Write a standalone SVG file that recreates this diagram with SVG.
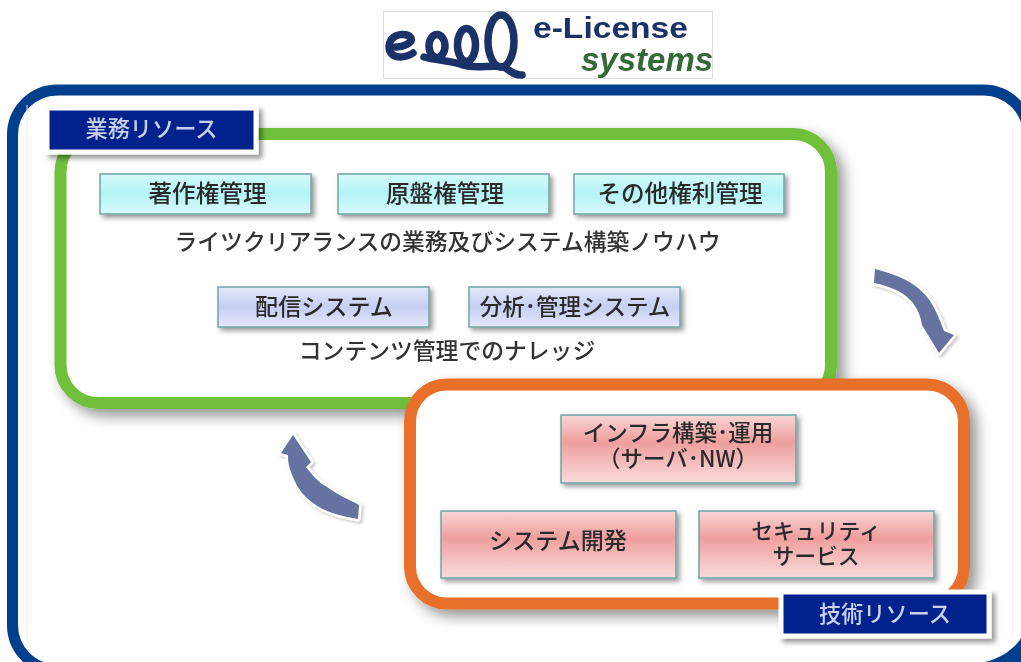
<svg xmlns="http://www.w3.org/2000/svg" width="1021" height="662" viewBox="0 0 1021 662">
<style>
text{font-family:"Noto Sans CJK JP","Noto Sans",sans-serif;text-anchor:middle;filter:blur(.35px)}
.t{font-size:23.6px;fill:#2a2a2a;font-weight:500}
.m{font-size:23.1px}
.c{font-size:22.8px;fill:#333;font-weight:500}
.l{font-size:22.2px;fill:#c9d0ea;font-weight:500}
.b{stroke:#6fa5a5;stroke-width:1.5;filter:url(#s)}
.n{fill:#00238c;stroke:#fff;stroke-width:5;filter:url(#s2)}
.q{fill:none;stroke:#1a3268;stroke-width:7.500;stroke-linecap:round}
.a{fill:#66729f;stroke:#fff;stroke-width:5;stroke-linejoin:round;paint-order:stroke;filter:url(#s4)}
.f{fill:#fff;stroke-width:12;filter:url(#s3)}
</style>
<defs>
<filter id="s" x="-10%" y="-20%" width="125%" height="150%"><feDropShadow dx="3" dy="3" stdDeviation="2.500" flood-color="#000" flood-opacity=".4"/></filter>
<filter id="s2" x="-10%" y="-20%" width="125%" height="150%"><feDropShadow dx="4" dy="4" stdDeviation="2.500" flood-color="#000" flood-opacity=".4"/></filter>
<filter id="s3" x="-5%" y="-10%" width="115%" height="125%"><feDropShadow dx="7" dy="7" stdDeviation="7" flood-color="#000" flood-opacity=".42"/></filter>
<filter id="s4" x="-20%" y="-20%" width="150%" height="150%"><feDropShadow dx="2" dy="2" stdDeviation="1.500" flood-color="#000" flood-opacity=".22"/></filter>
<linearGradient id="cy" x1="0" y1="0" x2="0" y2="1"><stop offset="0" stop-color="#d4fafa"/><stop offset=".5" stop-color="#b4f4f6"/><stop offset="1" stop-color="#d8fafa"/></linearGradient>
<linearGradient id="bl" x1="0" y1="0" x2="0" y2="1"><stop offset="0" stop-color="#e4e8fa"/><stop offset=".5" stop-color="#c6cff2"/><stop offset="1" stop-color="#e4e8fa"/></linearGradient>
<linearGradient id="pk" x1="0" y1="0" x2="0" y2="1"><stop offset="0" stop-color="#f9d6d6"/><stop offset=".4" stop-color="#ef9e9e"/><stop offset="1" stop-color="#f9dcdc"/></linearGradient>
</defs>
<rect width="1021" height="662" fill="#fff"/>
<g id="logo">
<rect x="383.500" y="11.500" width="329" height="67" fill="#fff" stroke="#ddd"/>
<path class="q" d="M396 47C403 47 413 43 411 38C408 33 396 33 391 40C386 49 391 57 400 57C405 57 410 55 413 53"/>
<ellipse class="q" cx="437" cy="46" rx="8" ry="11.500"/>
<ellipse class="q" cx="466.500" cy="45" rx="9" ry="16.500"/>
<ellipse class="q" cx="501" cy="41" rx="13" ry="26"/>
<path class="q" d="M424 57C435 60 450 61 460 64C475 70 490 64 503 67C510 69 512 76 522 75"/>
<text x="533" y="38" textLength="155" lengthAdjust="spacingAndGlyphs" style="text-anchor:start;font-family:'Liberation Sans',sans-serif;font-weight:bold;font-size:30px;fill:#1a3268">e-License</text>
<text x="581" y="71" style="text-anchor:start;font-family:'Liberation Sans',sans-serif;font-weight:bold;font-style:italic;font-size:33px;fill:#356a38">systems</text>
</g>
<g id="frame">
<rect x="12.500" y="90" width="1016" height="580" rx="45" fill="#fff" stroke="#003f8c" stroke-width="11"/>
<path d="M1021 639C1010 652 1000 658 985 662H1021Z" fill="#003f8c"/>
<path d="M27 105V640M1013 125V636" fill="none" stroke="#ececec"/>
</g>
<g id="resource-business">
<rect class="f" x="60.500" y="134" width="770.500" height="269" rx="38" stroke="#70c03a"/>
</g>
<g id="resource-tech">
<rect class="f" x="410" y="384.500" width="554" height="219" rx="37" stroke="#e86f2c"/>
</g>
<g id="label-business">
<rect class="n" x="47" y="108" width="209" height="44"/>
<text class="l" x="151.500" y="137">業務リソース</text>
</g>
<g id="n1"><rect class="b" x="100" y="174" width="211" height="40" fill="url(#cy)"/><text class="t" x="207.500" y="202">著作権管理</text></g>
<g id="n2"><rect class="b" x="338" y="174" width="211" height="40" fill="url(#cy)"/><text class="t" x="445" y="202">原盤権管理</text></g>
<g id="n3"><rect class="b" x="574" y="174" width="210" height="40" fill="url(#cy)"/><text class="t" x="680" y="202">その他権利管理</text></g>
<text class="c" x="447.500" y="250">ライツクリアランスの業務及びシステム構築ノウハウ</text>
<g id="n4"><rect class="b" x="218" y="287" width="211" height="40" fill="url(#bl)"/><text class="t m" x="324" y="315">配信システム</text></g>
<g id="n5"><rect class="b" x="469" y="287" width="211" height="40" fill="url(#bl)"/><text class="t" style="font-size:22.500px" x="575" y="315">分析･管理システム</text></g>
<text class="c" x="447" y="359">コンテンツ管理でのナレッジ</text>
<g id="n6"><rect class="b" x="561" y="415" width="235" height="68" fill="url(#pk)"/><text class="t" style="font-size:22.500px"><tspan x="678" y="441">インフラ構築･運用</tspan><tspan x="678" y="467">（サーバ･NW）</tspan></text></g>
<g id="n7"><rect class="b" x="441" y="511" width="235" height="67" fill="url(#pk)"/><text class="t m" x="558" y="549">システム開発</text></g>
<g id="n8"><rect class="b" x="699" y="511" width="235" height="67" fill="url(#pk)"/><text class="t" style="font-size:21.800px"><tspan x="816" y="539">セキュリティ</tspan><tspan x="816" y="564">サービス</tspan></text></g>
<g id="label-tech">
<rect class="n" x="781" y="592" width="208" height="44"/>
<text class="l" x="885" y="622">技術リソース</text>
</g>
<g id="connectors">
<path class="a" d="M875 269L874 283C893 287 905 293 913 303C918 310 921 317 922 325L939 353L954 335L944 331C939 318 935 307 927 297C917 285 905 277 875 269Z"/>
<path class="a" d="M293 435L281 453L288 455C288 465 290 470 293 477C298 490 305 497 313 503C325 512 340 516 358 519L359 505C350 500 338 495 327 487C318 482 312 475 306 467L311 462Z"/>
</g>
</svg>
